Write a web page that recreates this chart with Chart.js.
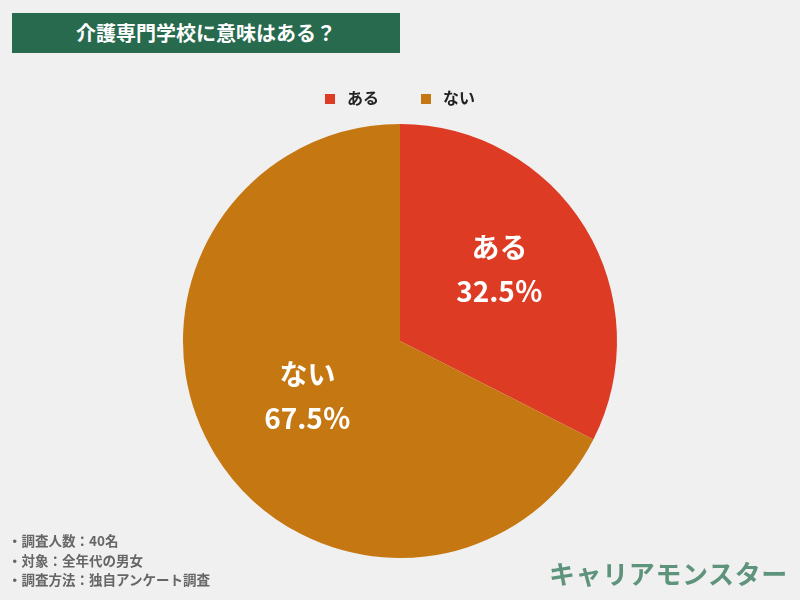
<!DOCTYPE html>
<html>
<head>
<meta charset="utf-8">
<script src="https://cdn.jsdelivr.net/npm/chart.js@4"></script>
<style>
  body { margin: 0; background: #f0f0f0; font-family: "Noto Sans CJK JP", sans-serif; }
  #wrap { position: relative; width: 800px; height: 600px; overflow: hidden; }
  #title { position: absolute; left: 12px; top: 13px; width: 388px; height: 40px; background: #276a4e;
    color: #fff; font-weight: bold; font-size: 20px; line-height: 40px; text-align: center; }
  #legend { position: absolute; top: 86px; left: 0; width: 800px; text-align: center; font-size: 16px;
    font-weight: bold; color: #222; line-height: 22px; }
  #legend span.item { display: inline-block; margin: 0 21px; }
  #legend span.box { display: inline-block; width: 10px; height: 10px; margin-right: 12px; vertical-align: 0px; }
  #notes { position: absolute; left: 8px; top: 531px; font-size: 13.5px; font-weight: bold; color: #666; line-height: 19.5px; }
  #brand { position: absolute; left: 549px; top: 554px; font-size: 26px; font-weight: bold; color: #5e937c; letter-spacing: 0.6px; }
  canvas { position: absolute; left: 0; top: 0; }
</style>
</head>
<body>
<div id="wrap">
  <canvas id="pieChart" width="800" height="600"></canvas>
  <div id="title">介護専門学校に意味はある？</div>
  <div id="legend"></div>
  <div id="notes">・調査人数：40名<br>・対象：全年代の男女<br>・調査方法：独自アンケート調査</div>
  <div id="brand">キャリアモンスター</div>
</div>
<script>
let labels = ['ある', 'ない'];
let values = [32.5, 67.5];
let colorHex = ['#dd3b24', '#c57712'];

// legend built from the same arrays
let legendEl = document.getElementById('legend');
labels.forEach((label, i) => {
  let item = document.createElement('span');
  item.className = 'item';
  item.innerHTML = '<span class="box" style="background:' + colorHex[i] + '"></span>' + label;
  legendEl.appendChild(item);
});

// draw label + percent inside each slice
let sliceLabels = {
  id: 'sliceLabels',
  afterDatasetsDraw: (chart) => {
    let c = chart.ctx;
    let meta = chart.getDatasetMeta(0);
    // small nudges so the text sits like the original
    let nudge = [{ x: 7, y: -15 }, { x: 0, y: -1 }];
    c.save();
    c.fillStyle = '#fff';
    c.textAlign = 'center';
    c.textBaseline = 'middle';
    c.font = 'bold 28px "Noto Sans CJK JP"';
    meta.data.forEach((arc, i) => {
      let p = arc.tooltipPosition();
      let x = p.x + nudge[i].x;
      let y = p.y + nudge[i].y;
      c.fillText(labels[i], x, y - 22);
      c.fillText(values[i] + '％', x, y + 22);
    });
    c.restore();
  }
};

let ctx = document.getElementById('pieChart').getContext('2d');
// eslint-disable-next-line no-unused-vars
let pieChart = new Chart(ctx, {
  type: 'pie',
  data: {
    labels: labels,
    datasets: [{
      data: values,
      backgroundColor: colorHex,
      borderWidth: 0,
      hoverOffset: 0
    }]
  },
  options: {
    responsive: false,
    animation: false,
    layout: {
      padding: { top: 124, bottom: 42, left: 183, right: 183 }
    },
    plugins: {
      legend: { display: false },
      tooltip: { enabled: false }
    }
  },
  plugins: [sliceLabels]
});
</script>
</body>
</html>
